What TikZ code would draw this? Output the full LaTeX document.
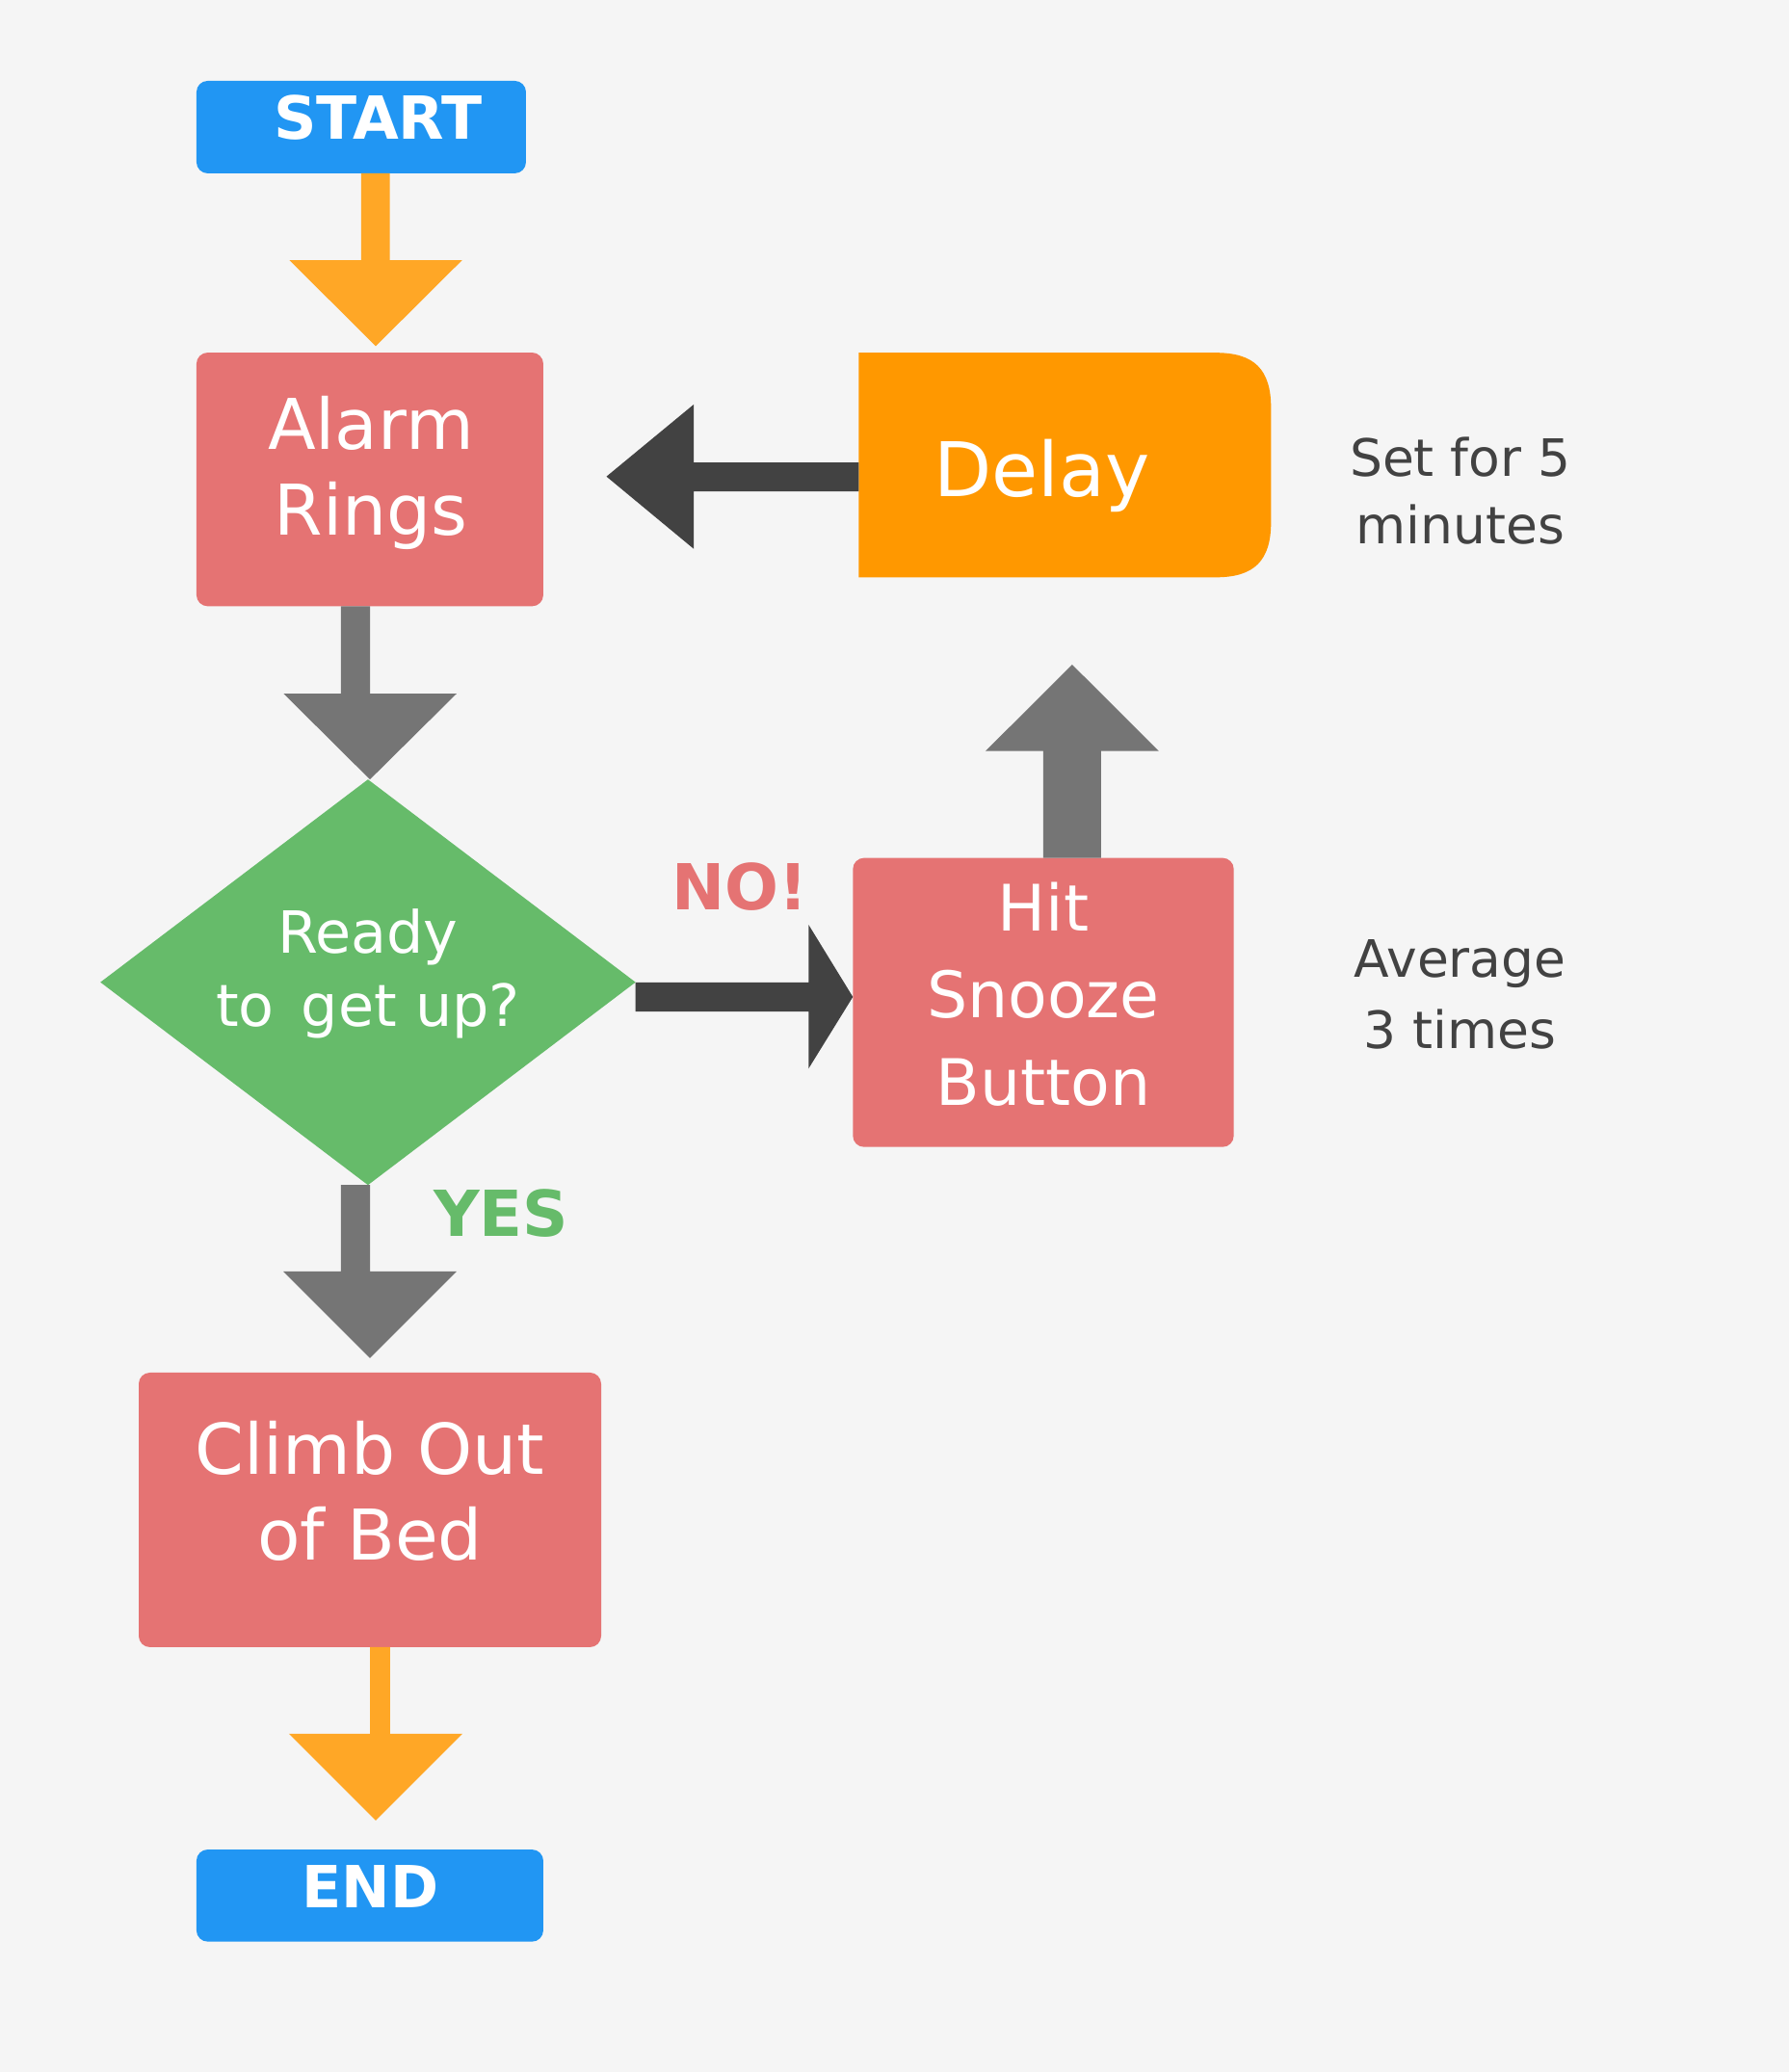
\documentclass[tikz,border=0pt]{standalone}
\usepackage{fontspec}
\setmainfont{DejaVu Sans}
\usetikzlibrary{calc,shapes.geometric}
\definecolor{bgc}{HTML}{F5F5F5}
\definecolor{bluec}{HTML}{2196F3}
\definecolor{orA}{HTML}{FFA726}
\definecolor{delayc}{HTML}{FF9800}
\definecolor{redc}{HTML}{E57373}
\definecolor{greenc}{HTML}{66BB6A}
\definecolor{grayA}{HTML}{757575}
\definecolor{darkA}{HTML}{424242}
\definecolor{notec}{HTML}{424242}
\newcommand\mylines[3]{{\fontsize{#1}{#2}\selectfont\begin{tabular}[t]{@{}c@{}}#3\end{tabular}}}
\begin{document}
\begin{tikzpicture}[x=1pt,y=-1pt,
  box/.style={rectangle, rounded corners=8.5pt, inner sep=0pt, outer sep=0pt},
  lbl/.style={anchor=base, inner sep=0pt, outer sep=0pt, text=white},
  note/.style={anchor=base, inner sep=0pt, outer sep=0pt, text=notec},
  tag/.style={anchor=base, inner sep=0pt, outer sep=0pt}]
\fill[bgc] (0,0) rectangle (1354,1568.4);
\useasboundingbox (0,0) rectangle (1354,1568.4);

% boxes
\node[box, fill=bluec, minimum width=249.4pt, minimum height=70pt] (start) at (273.4,96.2) {};
\node[box, fill=redc, minimum width=262.5pt, minimum height=192pt] (alarm) at (279.95,362.9) {};
\fill[delayc] (650,267) -- (650,437) -- (920,437) .. controls (949.4,437) and (962,424.4) .. (962,395)
  -- (962,309) .. controls (962,279.6) and (949.4,267) .. (920,267) -- cycle;
\node[rectangle, inner sep=0pt, outer sep=0pt, minimum width=312pt, minimum height=170pt] (delay) at (806,352) {};
\node[diamond, fill=greenc, inner sep=0pt, outer sep=0pt, minimum width=405pt, minimum height=307pt] (diamond) at (278.5,743.5) {};
\node[box, fill=redc, minimum width=288.3pt, minimum height=218.8pt] (hit) at (789.65,758.8) {};
\node[box, fill=redc, minimum width=350pt, minimum height=207.8pt] (climb) at (280,1142.9) {};
\node[box, fill=bluec, minimum width=262.5pt, minimum height=69.7pt] (end) at (279.95,1434.85) {};

% block arrows
\fill[orA] let \p1=(start.south), \p2=(alarm.north) in
  (273.4,\y1) -- (295,\y1) -- (295,196.9) -- (349.8,196.9) -- (284.4,{\y2+4.9pt}) -- (219,196.9) -- (273.4,196.9) -- cycle;
\fill[grayA] let \p1=(alarm.south), \p2=(diamond.north) in
  (258.1,\y1) -- (280,\y1) -- (280,525) -- (345.6,525) -- (280,\y2) -- (214.6,525) -- (258.1,525) -- cycle;
\fill[darkA] let \p1=(delay.west) in
  (\x1,350) -- (525,350) -- (525,306.2) -- (459,360.7) -- (525,415.4) -- (525,371.9) -- (\x1,371.9) -- cycle;
\fill[darkA] let \p1=(diamond.east), \p2=(hit.west) in
  (\x1,743.7) -- (612,743.7) -- (612,700) -- (\x2,754.6) -- (612,808.8) -- (612,765.6) -- (\x1,765.6) -- cycle;
\fill[grayA] let \p1=(hit.north) in
  (789.6,\y1) -- (789.6,568.5) -- (745.9,568.5) -- (811.5,503.1) -- (877.1,568.5) -- (833.4,568.5) -- (833.4,\y1) -- cycle;
\fill[grayA] let \p1=(diamond.south) in
  (258.1,\y1) -- (280,\y1) -- (280,962.4) -- (345.6,962.4) -- (280,1028) -- (214.4,962.4) -- (258.1,962.4) -- cycle;
\fill[orA] let \p1=(climb.south) in
  (280,\y1) -- (295.3,\y1) -- (295.3,1312.4) -- (350,1312.4) -- (284.4,1378) -- (218.7,1312.4) -- (280,1312.4) -- cycle;

% texts
\node[lbl, font=\bfseries\fontsize{45}{54}\selectfont] (tstart) at (286.2,105.2) {START};
\node[lbl] (talarm) at (280.7,339.8) {\mylines{53}{65}{Alarm\\Rings}};
\node[lbl, font=\fontsize{57}{68}\selectfont] (tdelay) at (788.5,376) {Delay};
\node[note] (nset) at (1105.2,360.9) {\mylines{39}{51}{Set for 5\\minutes}};
\node[lbl] (tready) at (278.5,721.6) {\mylines{44}{55}{Ready\\to\hspace{0.15em} get up?}};
\node[tag, text=redc, font=\bfseries\fontsize{48}{58}\selectfont] (tno) at (560.2,689) {NO!};
\node[lbl] (thit) at (789.6,704.6) {\mylines{48.5}{66}{Hit\\Snooze\\Button}};
\node[note] (navg) at (1105.2,739.6) {\mylines{39}{54}{Average\\3 times}};
\node[tag, text=greenc, font=\bfseries\fontsize{48}{58}\selectfont] (tyes) at (379.2,936.2) {YES};
\node[lbl] (tclimb) at (280,1115.6) {\mylines{53}{65.6}{Climb Out\\of Bed}};
\node[lbl, font=\bfseries\fontsize{44}{53}\selectfont] (tend) at (280.4,1443.7) {END};
\end{tikzpicture}
\end{document}
